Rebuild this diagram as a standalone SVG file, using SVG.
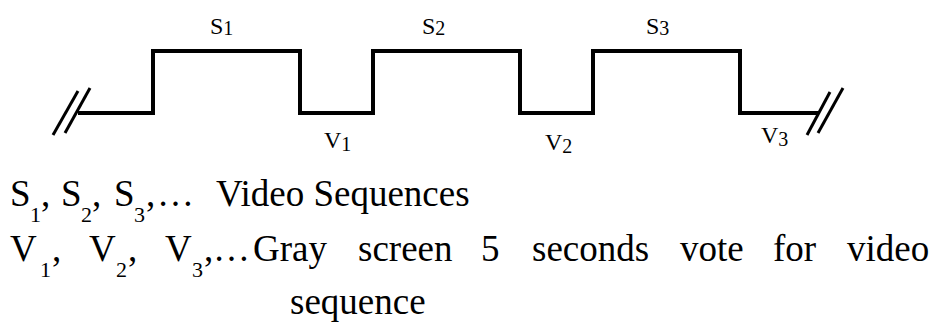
<svg xmlns="http://www.w3.org/2000/svg" width="934" height="322" viewBox="0 0 934 322">
<style>
.w{fill:none;stroke:#000;stroke-width:4;stroke-linejoin:miter;stroke-linecap:square}
.sl{stroke:#000;stroke-width:3;stroke-linecap:butt}
.lb{font-family:"Liberation Serif","Times New Roman",serif;font-size:24px;fill:#000}
.sb{font-size:20px}
.tx{font-family:"Liberation Serif","Times New Roman",serif;font-size:37px;fill:#000}
.ts{font-size:22px}
</style>
<rect width="934" height="322" fill="#fff"/>
<g id="connectors">
<path class="w" d="M80,113 H153 V51 H300 V113 H373 V51 H520 V113 H593 V51 H740 V113 H817"/>
<line class="sl" x1="53" y1="135" x2="78" y2="91"/>
<line class="sl" x1="65" y1="133" x2="90" y2="88"/>
<line class="sl" x1="807" y1="135" x2="830" y2="92"/>
<line class="sl" x1="818" y1="133" x2="843" y2="88"/>
</g>
<g id="S1"><text class="lb" x="210" y="34">S<tspan class="sb" dy="1">1</tspan></text></g>
<g id="S2"><text class="lb" x="422" y="34">S<tspan class="sb" dy="1">2</tspan></text></g>
<g id="S3"><text class="lb" x="646" y="34">S<tspan class="sb" dy="1">3</tspan></text></g>
<g id="V1"><text class="lb" x="324" y="148">V<tspan class="sb" dy="3">1</tspan></text></g>
<g id="V2"><text class="lb" x="545" y="150">V<tspan class="sb" dy="3">2</tspan></text></g>
<g id="V3"><text class="lb" x="761" y="143">V<tspan class="sb" dy="3">3</tspan></text></g>
<g id="legend">
<text class="tx" y="206"><tspan x="10">S</tspan><tspan class="ts" x="30" dy="16">1</tspan><tspan x="41" dy="-16">,</tspan><tspan x="61">S</tspan><tspan class="ts" x="81" dy="16">2</tspan><tspan x="92" dy="-16">,</tspan><tspan x="114">S</tspan><tspan class="ts" x="134" dy="16">3</tspan><tspan x="146" dy="-16">,</tspan><tspan x="157">…</tspan></text>
<text class="tx" x="216" y="206">Video Sequences</text>
<text class="tx" y="261"><tspan x="10">V</tspan><tspan class="ts" x="40" dy="16">1</tspan><tspan x="52" dy="-16">,</tspan><tspan x="89">V</tspan><tspan class="ts" x="116" dy="16">2</tspan><tspan x="128" dy="-16">,</tspan><tspan x="165">V</tspan><tspan class="ts" x="192" dy="16">3</tspan><tspan x="204" dy="-16">,</tspan><tspan x="213">…</tspan></text>
<text class="tx" x="253" y="261">Gray</text>
<text class="tx" x="358" y="261">screen</text>
<text class="tx" x="481" y="261">5</text>
<text class="tx" x="532" y="261">seconds</text>
<text class="tx" x="680" y="261">vote</text>
<text class="tx" x="773" y="261">for</text>
<text class="tx" x="847" y="261">video</text>
<text class="tx" x="290" y="314">sequence</text>
</g>
</svg>
